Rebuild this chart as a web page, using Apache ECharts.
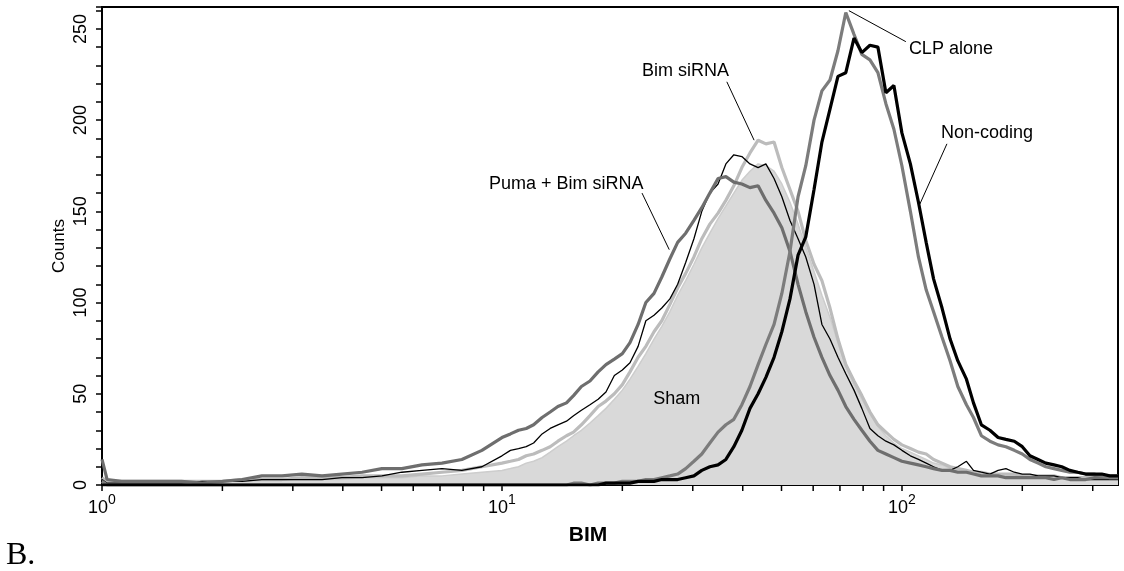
<!DOCTYPE html>
<html><head><meta charset="utf-8">
<script src="https://cdn.jsdelivr.net/npm/echarts@6/dist/echarts.min.js"></script>
<style>html,body{margin:0;padding:0;background:#fff}#c{width:1124px;height:571px}</style>
</head><body><div id="c"></div>
<script>
// BIM fluorescence channel values (log scale)
const bim = [1.00,1.03,1.12,1.26,1.41,1.58,1.78,2.00,2.24,2.51,2.82,3.16,3.55,3.98,4.47,5.01,5.62,6.31,7.08,7.94,8.91,
  10.0,10.5,11.0,11.5,12.0,12.6,13.2,13.8,14.5,15.1,15.8,16.6,17.4,18.2,19.1,20.0,20.9,21.9,22.9,24.0,
  25.1,26.3,27.5,28.8,30.2,31.6,33.1,34.7,36.3,38.0,39.8,41.7,43.7,45.7,47.9,50.1,52.5,55.0,57.5,60.3,
  63.1,66.1,69.2,72.4,75.9,79.4,83.2,87.1,91.2,95.5,100,105,110,115,120,126,132,138,145,151,
  158,166,174,182,191,200,209,219,229,240,251,263,275,288,302,316,331,347];

const shamCounts = [3,2,2,2,2,2,2,2,2,3,3,3,3,3,4,4,4,5,5,6,7,
  8,9,10,12,13,15,18,21,24,27, 30,34,38,42,47,52,58,65,72,80,
  87,95,104,112,121,130,138,146,153,160, 167,172,176,175,172,165,155,143,130,117,
  104,92,78,65,55,47,39,32,27,23, 20,18,16,14,12,11,9,8,7,7,
  6,6,5,5,5,5,5,4,4,4, 4,4,4,4,4,4,4,4];

const bimSiRNA = [4,2,2,2,2,2,2,2,3,3,3,4,4,4,5,5,5,6,7,8,10,
  12,13,14,16,17,19,21,24,27,29, 33,38,43,46,50,55,62,70,76,84,
  90,99,108,116,125,135,143,149,156,164, 174,182,189,187,188,174,162,150,134,121,
  112,97,80,66,57,49,40,33,29,25, 22,20,18,17,14,12,10,9,8,7,
  7,6,6,6,6,5,5,5,5,5, 4,4,4,4,5,5,5,5];

const unlabeledThin = [3,1,1,1,1,1,2,2,2,3,3,3,3,4,4,5,7,8,9,8,10,
  16,19,20,21,23,28,31,33,35,38, 41,44,47,51,60,63,67,76,90,93,
  97,102,110,122,135,150,160,165,176,181, 180,176,174,176,168,158,145,135,125,110,
  88,80,70,61,52,42,31,27,24,22, 19,16,14,12,10,8,8,10,13,8,
  7,6,8,9,7,6,6,5,5,5, 4,4,4,3,3,3,3,3];

const pumaBimSiRNA = [14,3,2,2,2,2,1,2,3,5,5,6,5,6,7,9,9,11,12,14,19,
  26,28,30,31,33,37,40,43,45,49, 54,57,62,66,69,72,78,88,100,105,
  114,124,133,138,145,152,160,168,169,166, 165,163,164,156,149,141,128,110,95,81,
  70,60,52,43,36,30,24,19,17,15, 13,12,11,10,9,8,8,7,7,6,
  5,5,5,4,4,4,4,4,4,3, 4,3,3,3,4,4,4,4];

const clpAlone = [2,0,0,0,0,0,0,0,0,0,0,0,0,0,0,0,0,0,0,0,0,
  0,0,0,0,0,0,0,0,0,1, 1,0,1,1,1,2,2,2,3,3,
  4,5,6,9,13,17,23,29,33,36, 44,54,66,77,88,105,128,158,175,200,
  216,222,238,259,247,236,233,226,209,195, 175,150,125,107,95,81,68,54,44,37,
  27,24,22,21,19,17,14,12,10,9, 8,7,7,6,6,5,4,4];

const nonCoding = [0,0,0,0,0,0,0,0,0,0,0,0,0,0,0,0,0,0,0,0,0,
  0,0,0,0,0,0,0,0,0,0, 0,0,0,1,1,1,1,2,2,2,
  3,3,3,4,5,8,10,11,14,21, 30,42,50,59,70,84,102,126,136,162,
  188,206,224,226,245,237,241,240,215,219, 193,176,155,133,113,97,80,68,58,45,
  33,30,26,25,24,21,16,14,12,11, 10,8,7,6,6,6,5,5];

const xTickValues = [1, 10, 100];
const xMinorTicks = [2,3,4,5,6,7,8,9,20,30,40,50,60,70,80,90,200,300];

// annotation text anchors and leader lines, in data coordinates
const annotations = [
  {text:'CLP alone', at:[104.1,239], from:[73.7,260], to:[102.3,243]},
  {text:'Non-coding', at:[125.2,193], from:[129.6,187], to:[110.9,154]},
  {text:'Bim siRNA', at:[22.4,227], from:[36.5,221], to:[42.7,189]},
  {text:'Puma + Bim siRNA', at:[9.28,165], from:[22.4,160], to:[26.2,129]},
  {text:'Sham', at:[23.9,47]}
];

const chart = echarts.init(document.getElementById('c'), null, {renderer:'canvas'});
const pair = arr => bim.map((x,i)=>[x, arr[i]]);
const FONT = '"Liberation Sans", Arial, sans-serif';

function lineSeries(name, arr, color, width, z) {
  return {name, type:'line', data:pair(arr), symbol:'none', z,
    lineStyle:{color, width}, itemStyle:{color}, animation:false};
}

function isMajor(v) {
  return xTickValues.some(t => Math.abs(v - t) / t < 1e-6);
}

chart.setOption({
  animation:false,
  grid:{left:102, right:6, top:7, bottom:86, outerBoundsMode:'none', containLabel:false,
    show:true, borderColor:'#000', borderWidth:2, backgroundColor:'transparent'},
  xAxis:{type:'log', logBase:10, min:1, max:347,
    axisLine:{show:true, lineStyle:{color:'#000', width:2}},
    axisTick:{show:true, length:6, lineStyle:{color:'#000', width:1.5}},
    splitLine:{show:false},
    axisLabel:{margin:8, color:'#000', showMaxLabel:false,
      formatter: v => isMajor(v) ? '{b|10}{s|' + Math.round(Math.log10(v)) + '}' : '',
      rich:{b:{fontSize:18, fontFamily:FONT, lineHeight:24, verticalAlign:'bottom', color:'#000'},
            s:{fontSize:14, fontFamily:FONT, lineHeight:14, verticalAlign:'top', color:'#000'}}}
  },
  yAxis:{type:'value', min:0, max:262, interval:50,
    name:'Counts', nameLocation:'middle', nameGap:34, nameMoveOverlap:false,
    nameTextStyle:{fontSize:17, fontFamily:FONT, color:'#000'},
    axisLine:{show:true, lineStyle:{color:'#000', width:2}},
    axisTick:{show:true, length:6, lineStyle:{color:'#000', width:1.5}},
    minorTick:{show:true, splitNumber:5, length:6, lineStyle:{color:'#000', width:1.5}},
    splitLine:{show:false},
    axisLabel:{rotate:90, margin:12, fontSize:18, fontFamily:FONT, color:'#000'}
  },
  series:[
    {name:'Sham', type:'line', data:pair(shamCounts), symbol:'none', z:1,
      lineStyle:{color:'#cdcdcd', width:1.5}, areaStyle:{color:'#d9d9d9', opacity:1}},
    lineSeries('Bim siRNA', bimSiRNA, '#bcbcbc', 3.2, 2),
    lineSeries('Unlabeled', unlabeledThin, '#000000', 1.3, 3),
    lineSeries('Puma + Bim siRNA', pumaBimSiRNA, '#6e6e6e', 3.2, 4),
    lineSeries('CLP alone', clpAlone, '#7c7c7c', 3.2, 5),
    lineSeries('Non-coding', nonCoding, '#000000', 3.2, 6),
    {type:'custom', z:10, clip:false, silent:true,
      data: xMinorTicks.map(v=>[v,0]),
      renderItem:(params, api)=>{
        const p = api.coord([api.value(0), 0]);
        return {type:'line', shape:{x1:p[0], y1:p[1], x2:p[0], y2:p[1]+6},
          style:{stroke:'#000', lineWidth:1.5}};
      }}
  ]
});

const g = [];
annotations.forEach(a=>{
  const p = chart.convertToPixel({gridIndex:0}, a.at);
  g.push({type:'text', z:100, style:{text:a.text, x:p[0], y:p[1], font:'18px ' + FONT,
    fill:'#000', align:'left', verticalAlign:'middle'}});
  if (a.from) {
    const f = chart.convertToPixel({gridIndex:0}, a.from);
    const t = chart.convertToPixel({gridIndex:0}, a.to);
    g.push({type:'line', z:100, shape:{x1:f[0], y1:f[1], x2:t[0], y2:t[1]},
      style:{stroke:'#000', lineWidth:1}});
  }
});
g.push({type:'text', z:100, style:{text:'BIM', x:588, y:535, font:'bold 21px ' + FONT,
  fill:'#000', align:'center', verticalAlign:'middle'}});
g.push({type:'text', z:100, style:{text:'B.', x:6, y:556, font:'32px "Liberation Serif", "Times New Roman", serif',
  fill:'#000', align:'left', verticalAlign:'middle'}});
chart.setOption({graphic:g});
</script>
</body></html>
